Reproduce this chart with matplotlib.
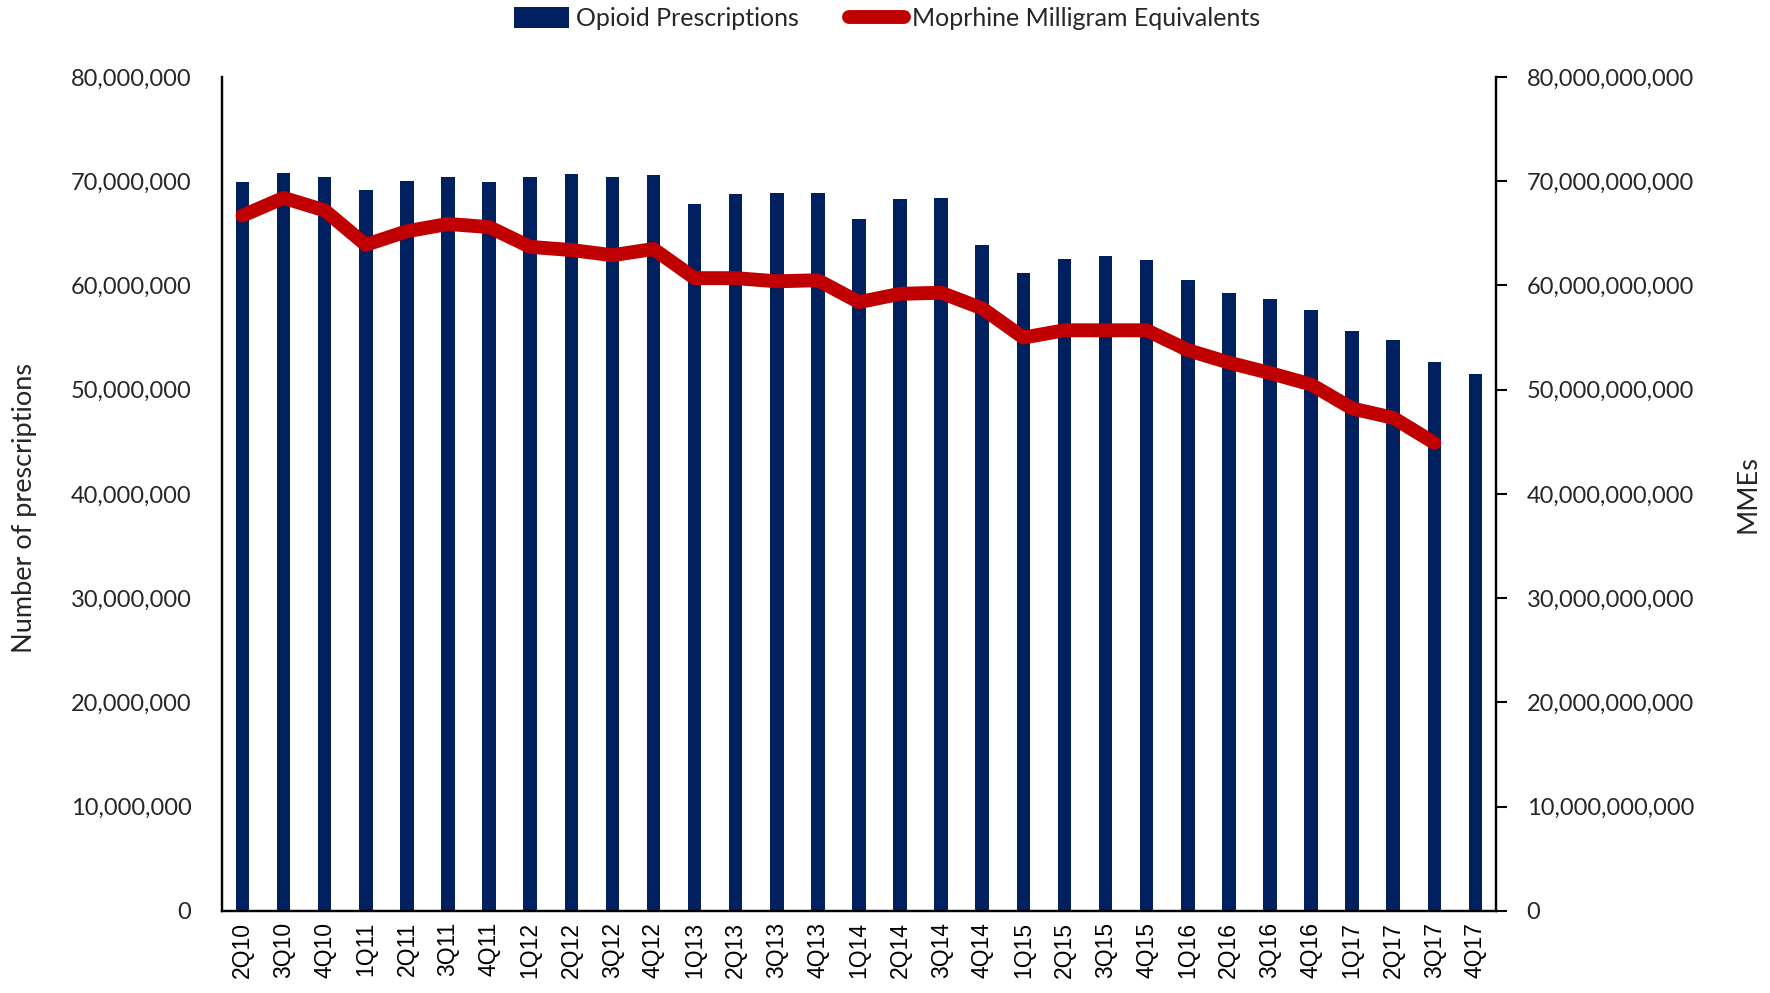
import matplotlib
matplotlib.use("Agg")
import matplotlib.pyplot as plt
from matplotlib.ticker import FuncFormatter
import numpy as np

# quarters shown on the x axis
quarters = ["2Q10", "3Q10", "4Q10", "1Q11", "2Q11", "3Q11", "4Q11",
            "1Q12", "2Q12", "3Q12", "4Q12", "1Q13", "2Q13", "3Q13", "4Q13",
            "1Q14", "2Q14", "3Q14", "4Q14", "1Q15", "2Q15", "3Q15", "4Q15",
            "1Q16", "2Q16", "3Q16", "4Q16", "1Q17", "2Q17", "3Q17", "4Q17"]

# opioid prescriptions (millions)
rx_millions = [69.9, 70.8, 70.4, 69.2, 70.0, 70.4, 69.9,
               70.4, 70.7, 70.4, 70.6, 67.8, 68.8, 68.9, 68.9,
               66.4, 68.3, 68.4, 63.9, 61.2, 62.5, 62.8, 62.4,
               60.5, 59.3, 58.7, 57.6, 55.6, 54.8, 52.7, 51.5]

# morphine milligram equivalents (billions), no value for 4Q17
mme_billions = [66.7, 68.4, 67.2, 63.9, 65.2, 65.9, 65.6,
                63.7, 63.4, 62.9, 63.5, 60.7, 60.7, 60.4, 60.5,
                58.4, 59.2, 59.3, 57.8, 55.0, 55.7, 55.7, 55.7,
                53.8, 52.6, 51.6, 50.5, 48.2, 47.3, 44.9]

bar_color = "#002060"
line_color = "#C00000"
txt_color = "#262626"
font = "Lato"

plt.rcParams['font.family'] = [font, 'DejaVu Sans']

fig = plt.figure(figsize=(17.7, 9.93), dpi=100)
ax = fig.add_axes([0.1254, 0.0826, 0.7198, 0.8399])
ax2 = ax.twinx()

x = np.arange(len(quarters))
rx = np.array(rx_millions) * 1e6
mme = np.array(mme_billions) * 1e9

ax.bar(x, rx, width=0.33, color=bar_color, label="Opioid Prescriptions", zorder=2)
ax2.plot(x[:len(mme)], mme, color=line_color, lw=10, solid_joinstyle="round",
         solid_capstyle="round", label="Moprhine Milligram Equivalents", zorder=3)

ax.set_xlim(-0.5, len(quarters) - 0.5)
ax.set_ylim(0, 80e6)
ax2.set_ylim(0, 80e9)
ax.set_yticks(np.arange(0, 80e6 + 1, 10e6))
ax2.set_yticks(np.arange(0, 80e9 + 1, 10e9))

fmt = FuncFormatter(lambda v, p: f"{int(round(v)):,}")
ax.yaxis.set_major_formatter(fmt)
ax2.yaxis.set_major_formatter(fmt)

ax.set_xticks(x)
ax.set_xticklabels(quarters, rotation=90, fontsize=16.5, family="Liberation Sans",
                   color="black")
ax.tick_params(axis="x", length=0, pad=8)
ax.tick_params(axis="y", length=0, pad=22, labelsize=17, labelcolor=txt_color)
ax2.tick_params(axis="y", length=8, width=1.5, direction="out", pad=14,
                labelsize=17, labelcolor=txt_color)

for a in (ax, ax2):
    a.spines["top"].set_visible(False)
    for s in ("left", "right", "bottom"):
        a.spines[s].set_linewidth(1.6)
        a.spines[s].set_color("black")

ax.set_ylabel("Number of prescriptions", fontsize=19.5, color=txt_color, labelpad=20)
ax.yaxis.set_label_coords(-0.145, 0.483)
ax2.set_ylabel("MMEs", fontsize=19.5, color=txt_color, labelpad=30)

# bars under the line
ax.set_zorder(1)
ax2.set_zorder(2)
ax.patch.set_visible(False)

h1, l1 = ax.get_legend_handles_labels()
h2, l2 = ax2.get_legend_handles_labels()
fig.legend(h1 + h2, l1 + l2, loc="center", bbox_to_anchor=(0.501, 0.981), ncol=2,
           frameon=False, fontsize=18, handlelength=2.2, handleheight=0.9,
           columnspacing=2.0, handletextpad=0.3, labelcolor=txt_color)

fig.savefig("out.png", dpi=100)
